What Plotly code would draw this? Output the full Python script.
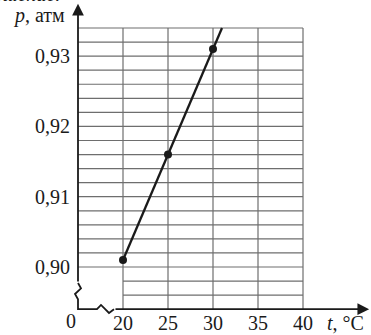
import numpy as np
import plotly.graph_objects as go

# measured points: temperature (°C) and pressure (atm)
t_pts = [20, 25, 30]
p_pts = [0.901, 0.916, 0.931]
# the straight line runs from the first point to the top of the grid
t_line = [20, 31]
p_line = [0.901, 0.934]

x_ticks = [20, 25, 30, 35, 40]
x_tick_labels = ["20", "25", "30", "35", "40"]
y_ticks = [0.90, 0.91, 0.92, 0.93]
y_tick_labels = ["0,90", "0,91", "0,92", "0,93"]

t_origin = 15          # where the broken axes meet
p_origin = 0.894
t_right = 40
p_top = 0.934
p_minor = np.round(np.arange(0.896, 0.9341, 0.002), 3)

FONT = "Liberation Serif"
GRID = "#6e6e6e"
INK = "#1a1a1a"

fig = go.Figure()

# grid
shapes = []
for t in x_ticks:
    shapes.append(dict(type="line", xref="x", yref="y", x0=t, x1=t, y0=p_origin, y1=p_top,
                       line=dict(color=GRID, width=1.2), layer="below"))
for p in p_minor:
    x0 = t_origin if p >= 0.8999 else 20
    shapes.append(dict(type="line", xref="x", yref="y", x0=x0, x1=t_right, y0=p, y1=p,
                       line=dict(color=GRID, width=1.2), layer="below"))

# axis breaks (zigzags) + lower parts of the axes
fig.add_trace(go.Scatter(
    x=[15, 15.333, 14.667, 15, 15, 17.111, 17.556, 18.444, 19.0],
    y=[0.89773, 0.89697, 0.89616, 0.89541, 0.894, 0.894, 0.8946, 0.89346, 0.894],
    mode="lines", line=dict(color=INK, width=1.8), hoverinfo="skip", showlegend=False))

# data line and points
fig.add_trace(go.Scatter(x=t_line, y=p_line, mode="lines",
                         line=dict(color=INK, width=2.3), showlegend=False))
fig.add_trace(go.Scatter(x=t_pts, y=p_pts, mode="markers",
                         marker=dict(color=INK, size=8), showlegend=False))

ann = []
# axes arrows
ann.append(dict(x=15, y=0.93745, ax=15, ay=0.89773, xref="x", yref="y", axref="x", ayref="y",
                text="", showarrow=True, arrowhead=2, arrowsize=1.3, arrowwidth=1.8, arrowcolor=INK))
ann.append(dict(x=47.35, y=0.894, ax=19.0, ay=0.894, xref="x", yref="y", axref="x", ayref="y",
                text="", showarrow=True, arrowhead=2, arrowsize=1.3, arrowwidth=1.8, arrowcolor=INK))

for t, lab in zip(x_ticks, x_tick_labels):
    ann.append(dict(x=t, y=0.89204, text=lab, showarrow=False, xanchor="center", yanchor="middle",
                    font=dict(family=FONT, size=20, color=INK)))
for p, lab in zip(y_ticks, y_tick_labels):
    ann.append(dict(x=14.333, y=p, text=lab, showarrow=False, xanchor="right", yanchor="middle",
                    font=dict(family=FONT, size=20, color=INK)))
ann.append(dict(x=14.2, y=0.8923, text="0", showarrow=False, xanchor="center", yanchor="middle",
                font=dict(family=FONT, size=20, color=INK)))
ann.append(dict(x=42.4, y=0.89204, text="<i>t</i>, °C", showarrow=False, xanchor="left",
                yanchor="middle", font=dict(family=FONT, size=20, color=INK)))
ann.append(dict(x=7.6, y=0.93571, text="<i>p</i>, атм", showarrow=False, xanchor="left",
                yanchor="middle", font=dict(family=FONT, size=20, color=INK)))
# cut-off line of text above the figure
ann.append(dict(x=62 / 371, y=1 + 6 / 335, xref="paper", yref="paper", text="<i>Решение.</i>",
                showarrow=False, xanchor="right", yanchor="middle",
                font=dict(family=FONT, size=20, color=INK)))

fig.update_layout(
    width=371, height=335,
    margin=dict(l=0, r=0, t=0, b=0),
    paper_bgcolor="white", plot_bgcolor="white",
    font=dict(family=FONT),
    xaxis=dict(range=[6.333, 47.556], visible=False, fixedrange=True),
    yaxis=dict(range=[0.89033, 0.937983], visible=False, fixedrange=True),
    shapes=shapes, annotations=ann, showlegend=False,
)

# the page's default body margin would shift the chart by 8 px
fig.write_html("out.html", config={"displayModeBar": False},
               post_script="document.body.style.margin='0';")
